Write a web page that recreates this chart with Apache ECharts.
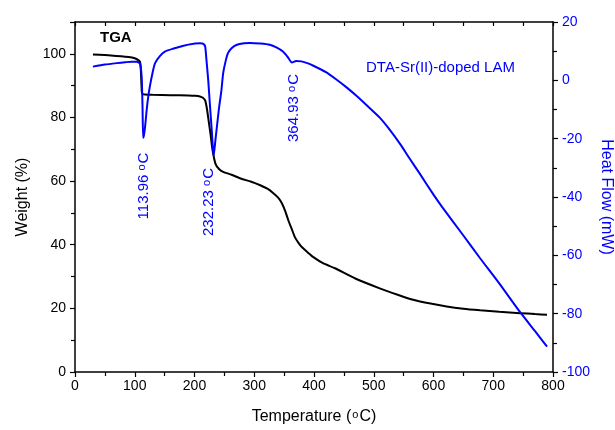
<!DOCTYPE html>
<html>
<head>
<meta charset="utf-8">
<script src="https://cdn.jsdelivr.net/npm/echarts@6/dist/echarts.min.js"></script>
<style>
html,body{margin:0;padding:0;background:#fff;overflow:hidden;width:615px;height:430px;}
#chart{width:615px;height:430px;}
</style>
</head>
<body>
<div id="chart"></div>
<script>
// ---- Data ----
const xTicks = [0, 100, 200, 300, 400, 500, 600, 700, 800];
const weightTicks = [0, 20, 40, 60, 80, 100];
const heatTicks = [-100, -80, -60, -40, -20, 0, 20];

const tgaTemp = [30, 60, 90, 100, 106, 109, 110, 111, 112, 114,
  117, 130, 160, 190, 201, 209, 214, 218, 221, 224,
  227, 230, 235, 241, 248, 262, 276, 295, 310, 322,
  332, 340, 346, 352, 357, 363, 368, 374, 380, 390,
  399, 415, 435, 470, 510, 540, 566, 595, 622, 650,
  678, 710, 745, 770, 790];
const tgaWeight = [99.8, 99.5, 99.0, 98.6, 98.0, 97.4, 95.5, 91.5, 87.8, 87.3,
  87.2, 87.1, 87.0, 86.9, 86.8, 86.6, 86.2, 85.3, 82.5, 78.5,
  74.5, 70.0, 65.5, 63.8, 62.9, 62.0, 60.9, 59.8, 58.7, 57.6,
  56.2, 54.8, 53.1, 50.5, 47.7, 44.8, 42.4, 40.6, 39.2, 37.5,
  36.1, 34.2, 32.6, 29.3, 26.3, 24.3, 22.7, 21.5, 20.6, 19.9,
  19.4, 18.9, 18.5, 18.2, 18.0];

const dtaTemp = [30, 50, 70, 84, 95, 103, 107, 109, 110, 111,
  112, 113, 114, 115, 117, 120, 122, 125, 130, 134,
  142, 151, 165, 180, 201, 209, 213, 216, 218, 220,
  223, 226, 229, 232, 235, 238, 241, 245, 248, 252,
  256, 262, 271, 283, 293, 310, 326, 337, 348, 356,
  363, 370, 379, 390, 399, 420, 438, 455, 471, 490,
  510, 525, 544, 560, 577, 600, 614, 650, 678, 710,
  745, 770, 790];
const dtaFlow = [4.7, 5.4, 5.9, 6.2, 6.4, 6.4, 6.1, 5.6, 4.5, 2.8,
  -1, -9, -19.7, -19.2, -16.5, -10.1, -6.5, -2.4, 2.8, 5.9,
  8.3, 9.9, 10.9, 11.8, 12.6, 12.7, 12.6, 12.3, 11.5, 7,
  0, -9, -17.5, -26, -20.5, -15, -9.5, -3.5, 2.5, 6.5,
  9.3, 11.0, 12.2, 12.7, 12.8, 12.6, 12.2, 11.3, 9.9, 8.0,
  6.1, 6.6, 6.5, 5.8, 5.0, 2.8, 0.2, -2.5, -5.3, -8.9,
  -12.8, -16.5, -21.8, -26.8, -32.0, -39.2, -43.3, -53.2, -61.0, -69.6,
  -79.5, -86.0, -91.3];

const peakLabels = ['113.96', '232.23', '364.93'];
const seriesNames = ['TGA', 'DTA-Sr(II)-doped LAM'];

// ---- Chart ----
const BLUE = '#0000ff';
const FONT = '"Liberation Sans", Arial, sans-serif';
const zip = (a, b) => a.map((v, i) => [v, b[i]]);
const sup = { fontSize: 11, verticalAlign: 'top', fontFamily: FONT, padding: [0, 1, 4, 1] };

const chart = echarts.init(document.getElementById('chart'), null, { renderer: 'canvas', width: 615, height: 430 });

function peakText(label, x, y) {
  return {
    type: 'text', x: x, y: y, rotation: Math.PI / 2,
    style: {
      text: label + ' {s|o}C', fill: BLUE, font: '15px ' + FONT,
      align: 'center', verticalAlign: 'middle',
      rich: { s: { fontSize: 11, verticalAlign: 'top', fill: BLUE, fontFamily: FONT, padding: [0, 1, 4, 0] } }
    }
  };
}

const axLine = { onZero: false, lineStyle: { color: '#000', width: 1.5 } };

chart.setOption({
  animation: false,
  backgroundColor: '#fff',
  grid: { left: 75, right: 62, top: 22, bottom: 58, containLabel: false, outerBoundsMode: 'none' },
  xAxis: [{
    type: 'value', min: xTicks[0], max: xTicks[xTicks.length - 1], interval: 100,
    position: 'bottom',
    name: 'Temperature ({s|o}C)', nameLocation: 'middle', nameGap: 37, nameMoveOverlap: false,
    nameTextStyle: { fontSize: 16, color: '#000', fontFamily: FONT, rich: { s: sup } },
    axisLine: axLine,
    axisTick: { show: true, inside: false, length: 5, lineStyle: { color: '#000', width: 1.2 } },
    minorTick: { show: true, splitNumber: 2, length: 4, lineStyle: { color: '#000', width: 1.2 } },
    axisLabel: { fontSize: 14, color: '#000', fontFamily: FONT, margin: 7 },
    splitLine: { show: false }
  }, {
    type: 'value', min: xTicks[0], max: xTicks[xTicks.length - 1], interval: 100,
    position: 'top',
    axisLine: axLine,
    axisTick: { show: true, inside: true, length: 4, lineStyle: { color: '#000', width: 1.2 } },
    minorTick: { show: true, splitNumber: 2, length: 4, lineStyle: { color: '#000', width: 1.2 } },
    axisLabel: { show: false },
    splitLine: { show: false }
  }],
  yAxis: [{
    type: 'value', min: weightTicks[0], max: 110, interval: 20, position: 'left',
    name: 'Weight (%)', nameLocation: 'middle', nameGap: 44, nameMoveOverlap: false,
    nameTextStyle: { fontSize: 16, color: '#000', fontFamily: FONT },
    axisLine: Object.assign({ show: true }, axLine),
    axisTick: { show: true, length: 5, lineStyle: { color: '#000', width: 1.2 } },
    minorTick: { show: true, splitNumber: 2, length: 4, lineStyle: { color: '#000', width: 1.2 } },
    axisLabel: { fontSize: 14, color: '#000', fontFamily: FONT, margin: 9,
      formatter: v => (weightTicks.indexOf(v) >= 0 ? String(v) : '') },
    splitLine: { show: false }
  }, {
    type: 'value', min: heatTicks[0], max: heatTicks[heatTicks.length - 1], interval: 20, position: 'right',
    name: 'Heat Flow (mW)', nameLocation: 'middle', nameGap: 45, nameRotate: -90, nameMoveOverlap: false,
    nameTextStyle: { fontSize: 16, color: BLUE, fontFamily: FONT },
    axisLine: Object.assign({ show: true }, axLine),
    axisTick: { show: true, length: 5, lineStyle: { color: '#000', width: 1.2 } },
    minorTick: { show: true, splitNumber: 2, length: 4, lineStyle: { color: '#000', width: 1.2 } },
    axisLabel: { fontSize: 14, color: BLUE, fontFamily: FONT, margin: 9 },
    splitLine: { show: false }
  }],
  series: [{
    name: seriesNames[0], type: 'line', xAxisIndex: 0, yAxisIndex: 0,
    data: zip(tgaTemp, tgaWeight), showSymbol: false, smooth: 0.2,
    lineStyle: { color: '#000', width: 2 }, itemStyle: { color: '#000' }, z: 3
  }, {
    name: seriesNames[1], type: 'line', xAxisIndex: 0, yAxisIndex: 1,
    data: zip(dtaTemp, dtaFlow), showSymbol: false, smooth: 0.2,
    lineStyle: { color: BLUE, width: 2 }, itemStyle: { color: BLUE }, z: 4
  }],
  graphic: [
    { type: 'text', left: 100, top: 30,
      style: { text: seriesNames[0], fill: '#000', font: 'bold 15px ' + FONT } },
    { type: 'text', left: 366, top: 60,
      style: { text: seriesNames[1], fill: BLUE, font: '15px ' + FONT } },
    peakText(peakLabels[0], 144, 186),
    peakText(peakLabels[1], 209, 202),
    peakText(peakLabels[2], 294, 108)
  ]
});
</script>
</body>
</html>
